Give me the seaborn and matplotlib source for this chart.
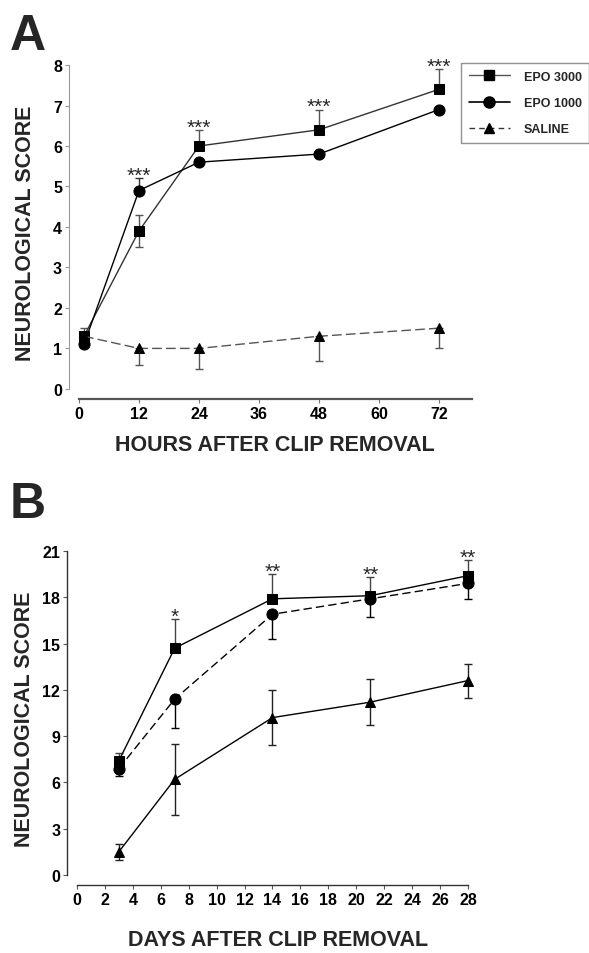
import pandas as pd
import matplotlib.pyplot as plt
import seaborn as sns
from matplotlib.lines import Line2D

sns.set_style('ticks')
plt.rcParams['font.family'] = ['Liberation Sans', 'DejaVu Sans']

groups = ['EPO 3000', 'EPO 1000', 'SALINE']

# Panel A - hours after clip removal
hours = [1, 12, 24, 48, 72]
a_epo3000 = [1.3, 3.9, 6.0, 6.4, 7.4]
a_epo1000 = [1.1, 4.9, 5.6, 5.8, 6.9]
a_saline = [1.3, 1.0, 1.0, 1.3, 1.5]
a_epo3000_lo = [0, 0.4, 0, 0, 0]
a_epo3000_hi = [0, 0.4, 0.4, 0.5, 0.5]
a_epo1000_lo = [0, 0, 0, 0, 0]
a_epo1000_hi = [0, 0.3, 0, 0, 0]
a_saline_lo = [0, 0.4, 0.5, 0.6, 0.5]
a_saline_hi = [0.2, 0, 0, 0, 0]
a_stars = {12: '***', 24: '***', 48: '***', 72: '***'}

# Panel B - days after clip removal
days = [3, 7, 14, 21, 28]
b_epo3000 = [7.4, 14.7, 17.9, 18.1, 19.4]
b_epo1000 = [6.9, 11.4, 16.9, 17.9, 18.9]
b_saline = [1.5, 6.2, 10.2, 11.2, 12.6]
b_epo3000_lo = [0, 0, 0, 0, 0]
b_epo3000_hi = [0.5, 1.9, 1.6, 1.2, 1.0]
b_epo1000_lo = [0.5, 1.9, 1.6, 1.2, 1.0]
b_epo1000_hi = [0, 0, 0, 0, 0]
b_saline_lo = [0.5, 2.3, 1.8, 1.5, 1.1]
b_saline_hi = [0.5, 2.3, 1.8, 1.5, 1.1]
b_stars = {7: '*', 14: '**', 21: '**', 28: '**'}

markers = {'EPO 3000': 's', 'EPO 1000': 'o', 'SALINE': '^'}
msize = {'EPO 3000': 7.8, 'EPO 1000': 8.0, 'SALINE': 7.8}


def long_df(x, series):
    rows = []
    for g, vals in zip(groups, series):
        for xi, v in zip(x, vals):
            rows.append({'x': xi, 'score': v, 'group': g})
    return pd.DataFrame(rows)


def draw_panel(ax, x, series, los, his, palette, dashes, ecolors, stars):
    df = long_df(x, series)
    sns.lineplot(data=df, x='x', y='score', hue='group', style='group',
                 palette=palette, dashes=dashes, markers=markers,
                 linewidth=1.0, legend=False, clip_on=False, zorder=3, ax=ax)
    for line, g in zip(ax.lines, groups):
        line.set_markerfacecolor('black')
        line.set_markeredgecolor('black')
        line.set_markersize(msize[g])
    tops = {}
    for g, vals, lo, hi, ec in zip(groups, series, los, his, ecolors):
        for xi, v, l, h in zip(x, vals, lo, hi):
            tops[xi] = max(tops.get(xi, 0), v + h)
            if l == 0 and h == 0:
                continue
            ax.errorbar([xi], [v], yerr=[[l], [h]], fmt='none', ecolor=ec,
                        elinewidth=1.0, capsize=3, capthick=1.0,
                        clip_on=False, zorder=2)
    for xi, s in stars.items():
        ax.annotate(s, (xi, tops[xi]), xytext=(0, -2), textcoords='offset points',
                    ha='center', va='baseline', fontsize=15)


fig = plt.figure(figsize=(5.89, 9.54), dpi=100)

# ---- A ----
ax1 = fig.add_axes([0.1171, 0.5807, 0.6842, 0.3501])
draw_panel(ax1, hours, [a_epo3000, a_epo1000, a_saline],
           [a_epo3000_lo, a_epo1000_lo, a_saline_lo],
           [a_epo3000_hi, a_epo1000_hi, a_saline_hi],
           {'EPO 3000': '#333333', 'EPO 1000': 'black', 'SALINE': '#555555'},
           {'EPO 3000': '', 'EPO 1000': '', 'SALINE': (7, 3)},
           ['#555555', '#333333', '#555555'], a_stars)
ax1.set_xlim(-2, 78.6)
ax1.set_ylim(-0.25, 8)
ax1.set_xticks(range(0, 73, 12))
ax1.set_yticks(range(0, 9))
ax1.spines['left'].set_bounds(0, 8)
ax1.spines['bottom'].set_bounds(0, 78.6)
ax1.spines['left'].set_color('#999999')
ax1.spines['bottom'].set_color('#555555')
ax1.spines['bottom'].set_linewidth(1.6)
ax1.tick_params(axis='y', colors='#999999', labelcolor='black', length=3, width=0.8, pad=2)
ax1.tick_params(axis='x', colors='#777777', labelcolor='black', length=3, width=0.8, pad=2)
ax1.set_xlabel('HOURS AFTER CLIP REMOVAL', fontsize=15.5, fontweight='bold')
ax1.set_ylabel('NEUROLOGICAL SCORE', fontsize=15.5, fontweight='bold')
ax1.xaxis.set_label_coords(0.511, -0.135)
ax1.xaxis.label.set_va('center')
ax1.yaxis.set_label_coords(-0.109, 0.5)
ax1.yaxis.label.set_va('center')

handles = [
    Line2D([], [], color='#555555', lw=1.0, marker='s', ms=7.8, mfc='black', mec='black'),
    Line2D([], [], color='black', lw=1.2, marker='o', ms=8.0, mfc='black', mec='black'),
    Line2D([], [], color='#333333', lw=1.0, ls=(0, (4, 3)), marker='^', ms=7.8, mfc='black', mec='black'),
]
leg = fig.legend(handles, groups, loc='upper left', bbox_to_anchor=(0.7827, 0.9329),
                 bbox_transform=fig.transFigure, frameon=True,
                 fancybox=False, edgecolor='#777777', handlelength=3.3,
                 handletextpad=1.1, labelspacing=1.15, borderpad=0.6,
                 borderaxespad=0, prop={'weight': 'bold', 'size': 9})
leg.get_frame().set_linewidth(1.0)

# ---- B ----
ax2 = fig.add_axes([0.1138, 0.0713, 0.6808, 0.3501])
draw_panel(ax2, days, [b_epo3000, b_epo1000, b_saline],
           [b_epo3000_lo, b_epo1000_lo, b_saline_lo],
           [b_epo3000_hi, b_epo1000_hi, b_saline_hi],
           {'EPO 3000': 'black', 'EPO 1000': 'black', 'SALINE': 'black'},
           {'EPO 3000': '', 'EPO 1000': (6, 3), 'SALINE': ''},
           ['#444444', 'black', '#222222'], b_stars)
ax2.set_xlim(-0.71, 28)
ax2.set_ylim(-0.65, 21)
ax2.set_xticks(range(0, 29, 2))
ax2.set_yticks(range(0, 22, 3))
ax2.spines['left'].set_bounds(0, 21)
ax2.spines['bottom'].set_bounds(0, 28)
for s in ['left', 'bottom']:
    ax2.spines[s].set_color('#333333')
    ax2.spines[s].set_linewidth(1.0)
ax2.tick_params(axis='both', colors='#555555', labelcolor='black', length=3, width=0.8, pad=2)
ax2.set_xlabel('DAYS AFTER CLIP REMOVAL', fontsize=15.5, fontweight='bold')
ax2.set_ylabel('NEUROLOGICAL SCORE', fontsize=15.5, fontweight='bold')
ax2.xaxis.set_label_coords(0.526, -0.162)
ax2.xaxis.label.set_va('center')
ax2.yaxis.set_label_coords(-0.105, 0.5)
ax2.yaxis.label.set_va('center')

for ax in [ax1, ax2]:
    sns.despine(ax=ax)
    for lab in ax.get_xticklabels() + ax.get_yticklabels():
        lab.set_fontsize(11.5)
        lab.set_fontweight('bold')

fig.text(0.017, 1 - 50 / 954, 'A', fontsize=36, fontweight='bold', va='baseline')
fig.text(0.017, 1 - 518 / 954, 'B', fontsize=36, fontweight='bold', va='baseline')

fig.savefig('out.png', dpi=100)
